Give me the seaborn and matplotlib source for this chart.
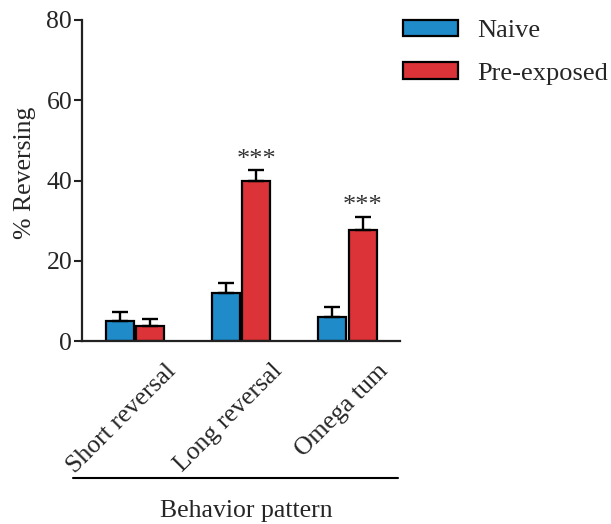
import matplotlib
matplotlib.use("Agg")
import matplotlib.pyplot as plt
import matplotlib.transforms as mtransforms
from matplotlib.lines import Line2D
import numpy as np
import pandas as pd
import seaborn as sns

# Behaviour categories and group summaries (mean % reversing, SEM)
behaviors = ["Short reversal", "Long reversal", "Omega tum"]
groups = ["Naive", "Pre-exposed"]
naive_mean = [5.0, 12.0, 6.1]
naive_sem = [2.3, 2.5, 2.5]
pre_mean = [3.8, 40.0, 27.7]
pre_sem = [1.8, 2.6, 3.3]
significance = ["", "***", "***"]

colors = {"Naive": "#1f8bc9", "Pre-exposed": "#dc3338"}

df = pd.DataFrame({
    "behavior": behaviors * 2,
    "group": [groups[0]] * 3 + [groups[1]] * 3,
    "value": naive_mean + pre_mean,
})

sns.set_style("ticks")
plt.rcParams["font.family"] = ["Liberation Serif", "DejaVu Serif"]

FS = 18.5

fig = plt.figure(figsize=(6.11, 5.24), dpi=100)
ax = fig.add_axes([0.134, 0.349, 0.521, 0.613])

sns.barplot(data=df, x="behavior", y="value", hue="group", order=behaviors,
            hue_order=groups, palette=colors, saturation=1, width=0.58,
            gap=0.09, errorbar=None, edgecolor="black", linewidth=1.6, ax=ax,
            legend=True)

# one-sided (upper) SEM bars and significance marks
sems = [naive_sem, pre_sem]
means = [naive_mean, pre_mean]
bar_containers = list(ax.containers)
for gi, cont in enumerate(bar_containers):
    xs = [b.get_x() + b.get_width() / 2 for b in cont.patches]
    ax.errorbar(xs, means[gi], yerr=[np.zeros(3), sems[gi]], fmt="none",
                ecolor="black", elinewidth=1.7, capsize=5.8, capthick=1.7,
                zorder=1)
    if gi == 1:
        for x, m, s, lab in zip(xs, means[gi], sems[gi], significance):
            if lab:
                ax.text(x, m + s + 2.6, lab, ha="center", va="center",
                        fontsize=19, color="#333333")

ax.set_ylim(0, 80)
ax.set_xlim(-0.5, 2.5)
ax.set_yticks([0, 20, 40, 60, 80])
ax.tick_params(axis="y", labelsize=FS, length=6, width=1.5, color="#222222",
               pad=1)
ax.tick_params(axis="x", length=0, labelsize=FS)
ax.set_ylabel("% Reversing", fontsize=FS)
ax.yaxis.set_label_coords(-0.144, 0.523)
ax.set_xlabel("")
for side in ["left", "bottom"]:
    ax.spines[side].set_linewidth(1.6)
    ax.spines[side].set_color("#222222")
sns.despine(ax=ax)

offset = mtransforms.ScaledTranslation(30 / 100, -14 / 100, fig.dpi_scale_trans)
for lab in ax.get_xticklabels():
    lab.set_rotation(45)
    lab.set_ha("right")
    lab.set_va("top")
    lab.set_rotation_mode("anchor")
    lab.set_transform(lab.get_transform() + offset)

# bracket line and group title under the category labels
fig.add_artist(Line2D([73 / 611, 398 / 611], [1 - 478 / 524, 1 - 478 / 524],
                      color="black", lw=1.5))
fig.text(246 / 611, 1 - 511 / 524, "Behavior pattern", ha="center",
         va="center", fontsize=FS)

leg = ax.legend(loc="upper left", bbox_to_anchor=(403 / 611, 1 - 20 / 524),
                bbox_transform=fig.transFigure, frameon=False, fontsize=19,
                handlelength=2.08, handleheight=0.57, handletextpad=0.72,
                labelspacing=0.76, borderaxespad=0, borderpad=0)
for h in leg.legend_handles:
    h.set_edgecolor("black")
    h.set_linewidth(1.6)

fig.savefig("out.png", dpi=100)
